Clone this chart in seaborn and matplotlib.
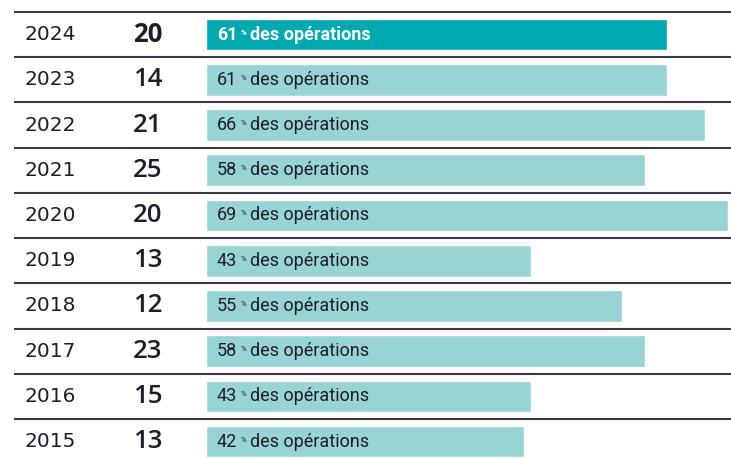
import matplotlib
matplotlib.use("Agg")
import matplotlib.pyplot as plt
import seaborn as sns
import pandas as pd
from matplotlib.transforms import offset_copy

years = ["2024", "2023", "2022", "2021", "2020", "2019", "2018", "2017", "2016", "2015"]
counts = [20, 14, 21, 25, 20, 13, 12, 23, 15, 13]
shares = [61, 61, 66, 58, 69, 43, 55, 58, 43, 42]
highlight = ["yes", "no", "no", "no", "no", "no", "no", "no", "no", "no"]

df = pd.DataFrame({"year": years, "count": counts, "share": shares, "hl": highlight})

sns.set_theme(style="white")
plt.rcParams["font.family"] = ["Roboto", "DejaVu Sans"]

W, H = 731, 459
fig = plt.figure(figsize=(W / 100, H / 100), dpi=100)
ax = fig.add_axes([0, 0, 1, 1])

sns.barplot(data=df, y="year", x="share", hue="hl", order=years,
            palette={"yes": "#00A9B0", "no": "#99D4D5"}, dodge=False,
            legend=False, width=0.70, saturation=1, ax=ax, orient="h")

px_per_unit = 7.565
x0 = 206
row = 45.2
dark = "#1e1e28"
for i in range(len(years)):
    ax.plot([-(x0 - 14) / px_per_unit, (W - x0) / px_per_unit], [i - 0.5, i - 0.5],
            color="#3a3a44", lw=1.5, solid_capstyle="butt")
ax.set_xlim(-x0 / px_per_unit, (W - x0) / px_per_unit)
ax.set_ylim(9 + (H - 441.6) / row, -0.5 - 12 / row)
ax.axis("off")

fig.canvas.draw()
renderer = fig.canvas.get_renderer()
for i, (y, c, s, h) in enumerate(zip(years, counts, shares, highlight)):
    bold = h == "yes"
    ax.text(-(x0 - 24) / px_per_unit, i, y, ha="left", va="center",
            fontsize=14.5, color=dark, family="DejaVu Sans")
    ax.text(-(x0 - 147.5) / px_per_unit, i, str(c), ha="center", va="center",
            fontsize=18.5, color=dark, family="Open Sans",
            fontweight="bold" if bold else "semibold")
    tc = "white" if bold else dark
    fw = "bold" if bold else "normal"
    t1 = ax.text(11 / px_per_unit, i, str(s), ha="left", va="center",
                 fontsize=13, color=tc, fontweight=fw)
    w1 = t1.get_window_extent(renderer).width * 72 / fig.dpi
    tr2 = offset_copy(ax.transData, fig=fig, x=w1 + 2.5, y=1.5, units="points")
    t2 = ax.text(11 / px_per_unit, i, "%", ha="left", va="center",
                 fontsize=5.5, color=tc, fontweight=fw, transform=tr2)
    w2 = t2.get_window_extent(renderer).width * 72 / fig.dpi
    tr3 = offset_copy(ax.transData, fig=fig, x=w1 + w2 + 5.0, y=0, units="points")
    ax.text(11 / px_per_unit, i, "des opérations", ha="left", va="center",
            fontsize=13, color=tc, fontweight=fw, transform=tr3)

fig.savefig("out.png", dpi=100)
